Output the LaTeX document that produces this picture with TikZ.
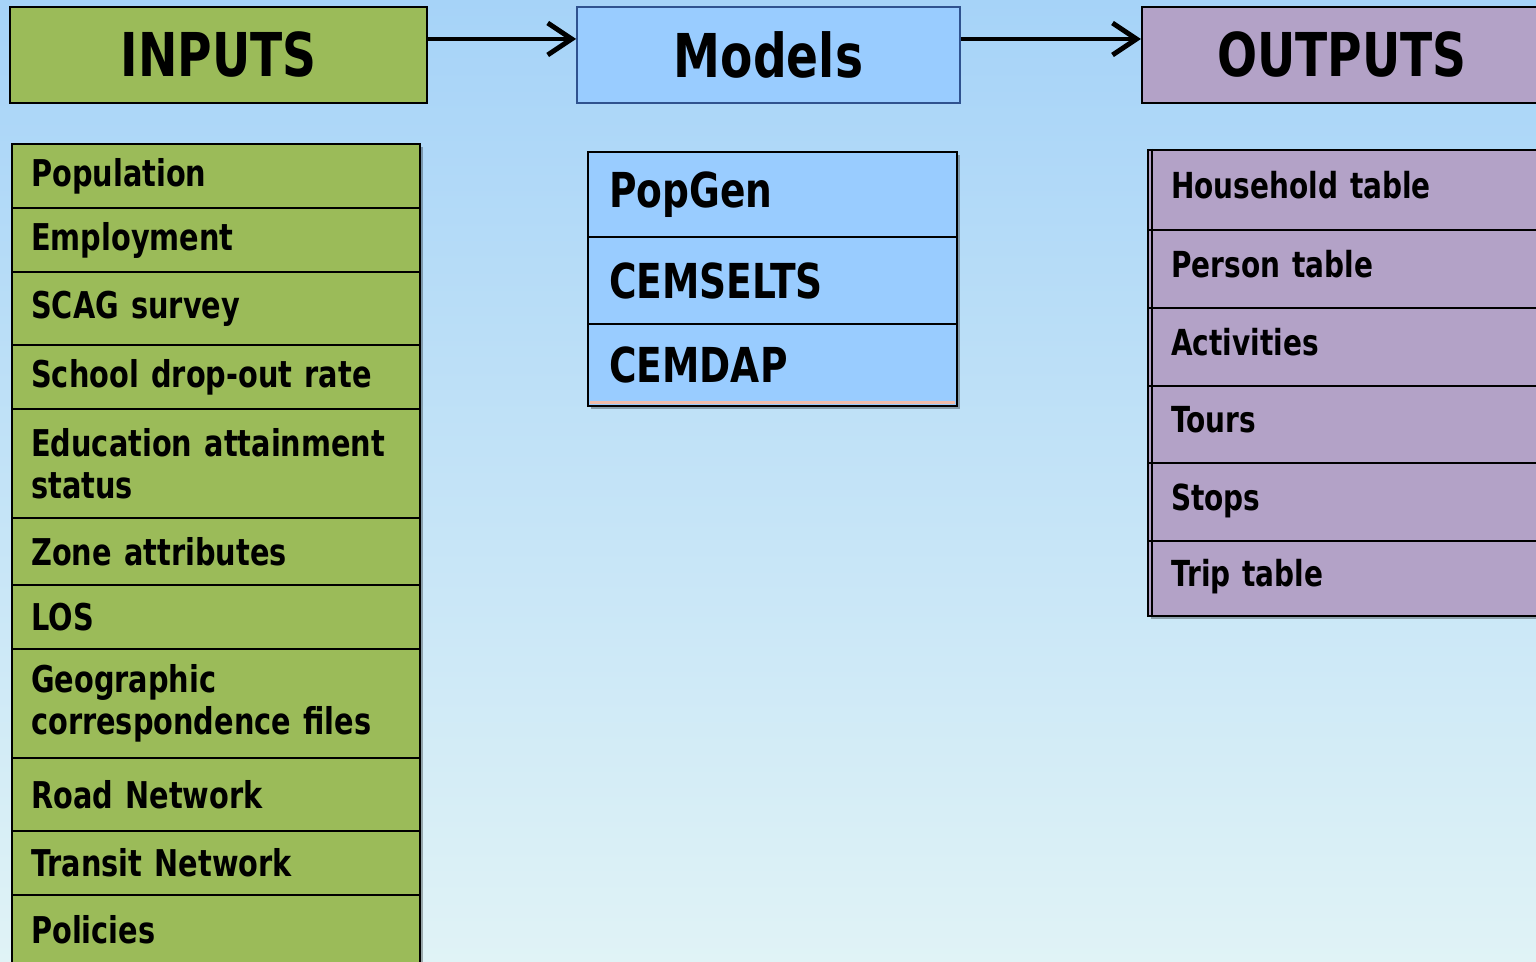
\documentclass[tikz,border=0pt]{standalone}
\usepackage{fontspec}
\setsansfont[FakeStretch=0.78]{DejaVu Sans}
\usetikzlibrary{arrows.meta}
\definecolor{ingreen}{RGB}{155,187,89}
\definecolor{mdblue}{RGB}{153,204,255}
\definecolor{outpurple}{RGB}{179,162,199}
\definecolor{mdedge}{RGB}{47,82,143}
\definecolor{bgtop}{RGB}{166,211,248}
\definecolor{bgbottom}{RGB}{224,243,246}
\definecolor{salmon}{RGB}{240,188,170}
\newcommand{\hdrfont}{\sffamily\bfseries\fontsize{17.2}{20}\selectfont}
\newcommand{\infont}{\sffamily\bfseries\fontsize{10.5}{11.95}\selectfont}
\newcommand{\mdfont}{\sffamily\bfseries\fontsize{13.7}{16}\selectfont}
\newcommand{\outfont}{\sffamily\bfseries\fontsize{10.2}{12}\selectfont}
\tikzset{
  hdr/.style={
           rectangle,
           draw=black, line width=0.6pt,
           minimum height=0.96cm,
           inner sep=0pt,
           font=\hdrfont,
           text centered},
  hdrin/.style={hdr, fill=ingreen, minimum width=4.17cm},
  hdrmd/.style={hdr, fill=mdblue, draw=mdedge, line width=0.5pt, minimum width=3.83cm},
  hdrout/.style={hdr, fill=outpurple, minimum width=4.00cm},
  row/.style={
           rectangle,
           draw=black, line width=0.7pt,
           anchor=north west,
           inner ysep=0pt,
           align=left},
  rowin/.style={row, fill=ingreen, text width=3.70cm, inner xsep=0.19cm, font=\infont},
  rowmd/.style={row, fill=mdblue, text width=3.27cm, inner xsep=0.21cm, font=\mdfont},
  rowout/.style={row, fill=outpurple, text width=3.52cm, inner xsep=0.23cm, font=\outfont,
           text height=0.26cm, text depth=0.10cm},
  flow/.style={line width=1.4pt, -{Straight Barb[length=0.24cm,width=0.32cm,line width=1.4pt]}},
  shadowbox/.style={fill=black, opacity=0.3}
}
\begin{document}
\begin{tikzpicture}
      \useasboundingbox (0,0) rectangle (15.36,-9.62);
      \clip (0,0) rectangle (15.36,-9.62);
      \shade[top color=bgtop, bottom color=bgbottom] (0,0) rectangle (15.36,-9.62);
      % shadows of the three lists
      \fill[shadowbox] (0.15,-1.47) rectangle (4.23,-9.70);
      \fill[shadowbox] (5.91,-1.55) rectangle (9.60,-4.09);
      \fill[shadowbox] (11.51,-1.53) rectangle (15.50,-6.19);
      % headers
      \node[hdrin] (inputs) at (2.185,-0.55) {INPUTS};
      \node[hdrmd] (models) at (7.685,-0.55) {Models};
      \node[hdrout] (outputs) at (13.42,-0.55) {OUTPUTS};
      \draw[flow] ([yshift=0.16cm]inputs.east) -- ([yshift=0.16cm]models.west);
      \draw[flow] ([yshift=0.16cm]models.east) -- ([yshift=0.16cm]outputs.west);
      % inputs
      \node[rowin, minimum height=0.64cm] (pop) at (0.11,-1.43) {Population};
      \node[rowin, minimum height=0.64cm] (emp) at (0.11,-2.07) {Employment};
      \node[rowin, minimum height=0.73cm] (scag) at (0.11,-2.71) {SCAG survey};
      \node[rowin, minimum height=0.64cm] (drop) at (0.11,-3.44) {School drop-out rate};
      \node[rowin, minimum height=1.09cm] (edu) at (0.11,-4.08) {Education attainment\\status};
      \node[rowin, minimum height=0.67cm] (zone) at (0.11,-5.17) {Zone attributes};
      \node[rowin, minimum height=0.64cm] (los) at (0.11,-5.84) {LOS};
      \node[rowin, minimum height=1.09cm] (geo) at (0.11,-6.48) {Geographic\\correspondence files};
      \node[rowin, minimum height=0.73cm] (road) at (0.11,-7.57) {Road Network};
      \node[rowin, minimum height=0.64cm] (transit) at (0.11,-8.30) {Transit Network};
      \node[rowin, minimum height=0.70cm] (pol) at (0.11,-8.94) {Policies};
      % models
      \node[rowmd, minimum height=0.85cm] (popgen) at (5.87,-1.51) {PopGen};
      \node[rowmd, minimum height=0.87cm] (cemselts) at (5.87,-2.36) {CEMSELTS};
      \node[rowmd, minimum height=0.82cm] (cemdap) at (5.87,-3.23) {CEMDAP};
      \draw[salmon, line width=0.8pt] ([xshift=0.03cm,yshift=0.05cm]cemdap.south west) -- ([xshift=-0.03cm,yshift=0.05cm]cemdap.south east);
      % outputs
      \node[rowout, minimum height=0.80cm] (hh) at (11.47,-1.49) {Household table};
      \node[rowout, minimum height=0.78cm] (person) at (11.47,-2.29) {Person table};
      \node[rowout, minimum height=0.78cm] (act) at (11.47,-3.07) {Activities};
      \node[rowout, minimum height=0.77cm] (tours) at (11.47,-3.85) {Tours};
      \node[rowout, minimum height=0.78cm] (stops) at (11.47,-4.62) {Stops};
      \node[rowout, minimum height=0.75cm] (trip) at (11.47,-5.40) {Trip table};
      \draw[line width=0.7pt] ([xshift=0.05cm]hh.north west) -- ([xshift=0.05cm]trip.south west);
\end{tikzpicture}
\end{document}
